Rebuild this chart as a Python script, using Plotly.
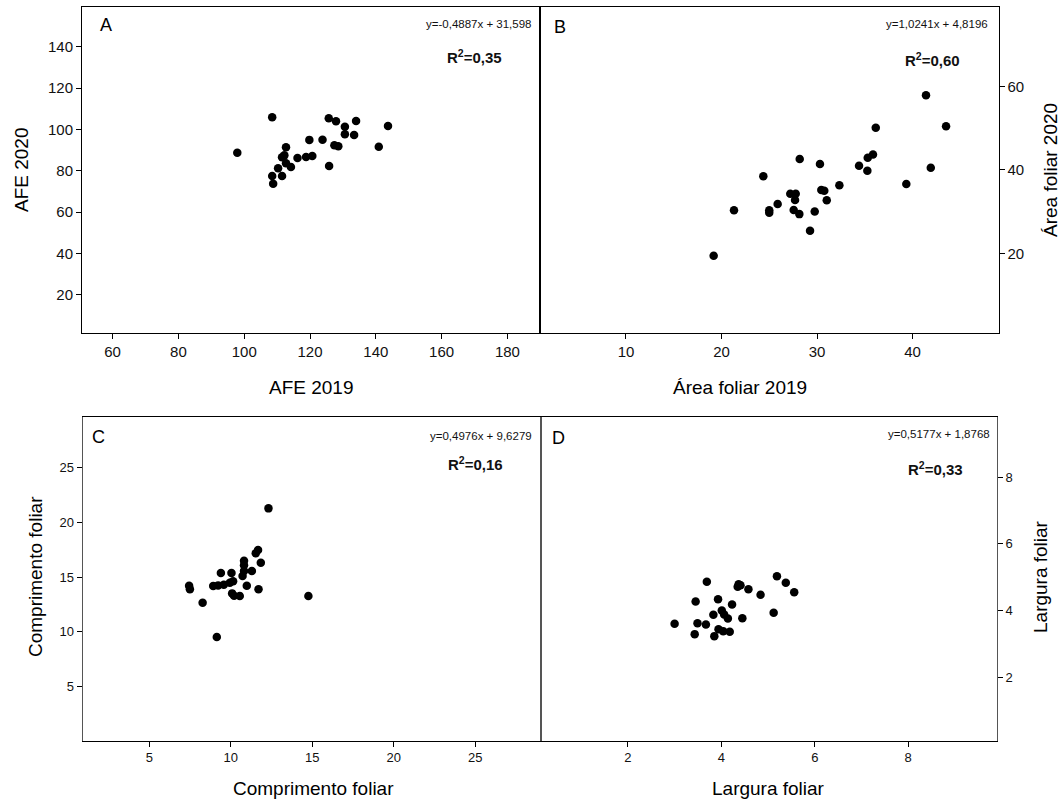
import plotly.graph_objects as go

# ---------------- data ----------------
A_x = [97.9, 108.5, 112.7, 111.5, 112.2, 112.7, 114.2, 110.3, 108.5, 111.5, 108.8, 116.2, 118.8, 120.7,
       119.8, 123.8, 125.8, 125.7, 127.9, 130.6, 130.6, 133.4, 134.0, 127.4, 128.6, 140.9, 143.7]
A_y = [88.7, 105.8, 91.3, 86.5, 87.4, 83.6, 81.8, 81.2, 77.4, 77.4, 73.7, 86.1, 86.6, 87.1,
       94.9, 95.0, 82.3, 105.4, 103.9, 101.3, 97.6, 97.3, 104.0, 92.3, 91.8, 91.6, 101.6]

B_x = [19.18, 21.31, 24.38, 25.0, 25.0, 25.88, 27.2, 27.77, 27.70, 27.56, 28.15, 28.19, 29.27, 29.76,
       30.31, 30.45, 30.76, 31.02, 32.34, 34.40, 35.27, 35.31, 35.86, 36.15, 39.35, 41.41, 41.91, 43.51]
B_y = [19.4, 30.3, 38.5, 30.3, 29.7, 31.8, 34.3, 34.3, 32.8, 30.4, 29.4, 42.6, 25.4, 30.0,
       41.4, 35.2, 35.0, 32.7, 36.3, 41.0, 39.8, 42.9, 43.7, 50.1, 36.6, 57.9, 40.5, 50.5]

C_x = [12.31, 7.44, 7.49, 8.27, 9.14, 9.39, 10.04, 8.92, 9.22, 9.57, 9.94, 10.14, 10.08, 10.20,
       10.55, 10.98, 10.72, 10.81, 10.81, 10.81, 11.29, 11.53, 11.67, 11.84, 11.70, 14.76]
C_y = [21.26, 14.21, 13.88, 12.66, 9.53, 15.37, 15.37, 14.18, 14.24, 14.30, 14.48, 14.61, 13.51, 13.30,
       13.27, 14.21, 15.09, 15.55, 16.07, 16.49, 15.55, 17.16, 17.46, 16.30, 13.88, 13.27]

D_x = [3.00, 3.69, 3.45, 3.93, 4.23, 4.37, 4.41, 4.35, 4.58, 4.84, 5.19, 5.38, 5.56, 5.12,
       4.45, 3.83, 4.01, 4.06, 4.14, 3.49, 3.67, 3.43, 3.85, 3.94, 4.04, 4.18]
D_y = [3.60, 4.86, 4.27, 4.34, 4.18, 4.79, 4.76, 4.71, 4.64, 4.47, 5.03, 4.83, 4.55, 3.93,
       3.77, 3.87, 4.00, 3.88, 3.76, 3.62, 3.58, 3.29, 3.23, 3.44, 3.38, 3.36]

A_xticks = [60, 80, 100, 120, 140, 160, 180]
A_yticks = [20, 40, 60, 80, 100, 120, 140]
B_xticks = [10, 20, 30, 40]
B_yticks = [20, 40, 60]
C_xticks = [5, 10, 15, 20, 25]
C_yticks = [5, 10, 15, 20, 25]
D_xticks = [2, 4, 6, 8]
D_yticks = [2, 4, 6, 8]

panel_letters = ["A", "B", "C", "D"]
equations = ["y=-0,4887x + 31,598", "y=1,0241x + 4,8196", "y=0,4976x + 9,6279", "y=0,5177x + 1,8768"]
r2_values = ["0,35", "0,60", "0,16", "0,33"]
x_titles = ["AFE 2019", "Área foliar 2019", "Comprimento foliar", "Largura foliar"]
y_titles = ["AFE 2020", "Área foliar 2020", "Comprimento foliar", "Largura foliar"]

# ---------------- layout helpers ----------------
W, H = 1064, 801
FONT = "Liberation Sans, Arial, sans-serif"


def px(x):
    return x / W


def py(y):
    return 1 - y / H


fig = go.Figure()
marker = dict(color="black", size=8.5, line=dict(width=0))
for i, (xs, ys) in enumerate([(A_x, A_y), (B_x, B_y), (C_x, C_y), (D_x, D_y)]):
    suffix = "" if i == 0 else str(i + 1)
    fig.add_trace(go.Scatter(x=xs, y=ys, mode="markers", marker=marker,
                             xaxis="x" + suffix, yaxis="y" + suffix, showlegend=False,
                             hoverinfo="x+y"))


def axis(domain, rng, ticks, fsize, lcolor="black", side=None, anchor=None):
    d = dict(domain=domain, range=rng, tickvals=ticks, ticks="outside", ticklen=5,
             tickcolor="black", tickwidth=1, showline=True, linecolor=lcolor, linewidth=1,
             mirror=True, showgrid=False, zeroline=False,
             tickfont=dict(family=FONT, size=fsize, color="#111"), anchor=anchor)
    if side:
        d["side"] = side
    return d


top_row = [py(333.3), py(7)]
bot_row = [py(740.7), py(417)]
A_dom = [px(82), px(540)]
B_dom = [px(540), px(998.5)]
C_dom = [px(82.5), px(540.5)]
D_dom = [px(540.5), px(997)]

fig.update_layout(
    width=W, height=H, margin=dict(l=0, r=0, t=0, b=0),
    paper_bgcolor="white", plot_bgcolor="white", showlegend=False,
    xaxis=axis(A_dom, [50.7, 189.9], A_xticks, 15, anchor="y"),
    yaxis=axis(top_row, [1.3, 159.2], A_yticks, 15, anchor="x"),
    xaxis2=axis(B_dom, [1.0, 49.0], B_xticks, 15, anchor="y2"),
    yaxis2=axis(top_row, [0.8, 79.1], B_yticks, 15, side="right", anchor="x2"),
    xaxis3=axis(C_dom, [0.9, 29.0], C_xticks, 13, anchor="y3"),
    yaxis3=axis(bot_row, [0.08, 29.59], C_yticks, 13, lcolor="#555", anchor="x3"),
    xaxis4=axis(D_dom, [0.13, 9.9], D_xticks, 13, anchor="y4"),
    yaxis4=axis(bot_row, [0.09, 9.81], D_yticks, 13, lcolor="#555", side="right", anchor="x4"),
)

ann = []
# panel letters
for t, (x, y) in zip(panel_letters, [(106, 25), (560, 27), (98, 437), (558, 438)]):
    ann.append(dict(text=t, x=px(x), y=py(y), xref="paper", yref="paper", showarrow=False,
                    font=dict(family=FONT, size=18, color="black"), xanchor="center", yanchor="middle"))
# equations (right aligned)
for t, (x, y) in zip(equations, [(534, 24), (990, 24), (534, 436), (992, 434)]):
    ann.append(dict(text=t, x=px(x), y=py(y), xref="paper", yref="paper", showarrow=False,
                    font=dict(family=FONT, size=11.5, color="#111"), xanchor="right", yanchor="middle"))
# R2
for r, (x, y) in zip(r2_values, [(474, 57), (932, 60), (475, 463), (935, 468)]):
    ann.append(dict(text="<b>R<sup>2</sup>=" + r + "</b>", x=px(x), y=py(y), xref="paper", yref="paper",
                    showarrow=False, font=dict(family=FONT, size=15, color="#111"),
                    xanchor="center", yanchor="middle"))
# x titles
for t, (x, y) in zip(x_titles, [(311, 387), (740, 387), (313, 788), (768, 788)]):
    ann.append(dict(text=t, x=px(x), y=py(y), xref="paper", yref="paper", showarrow=False,
                    font=dict(family=FONT, size=19, color="black"), xanchor="center", yanchor="middle"))
# y titles (rotated)
for t, (x, y) in zip(y_titles, [(22, 170), (1051, 170), (35, 577), (1040, 577)]):
    ann.append(dict(text=t, x=px(x), y=py(y), xref="paper", yref="paper", showarrow=False,
                    textangle=-90, font=dict(family=FONT, size=19, color="black"),
                    xanchor="center", yanchor="middle"))
fig.update_layout(annotations=ann)

fig.write_html("out.html")
